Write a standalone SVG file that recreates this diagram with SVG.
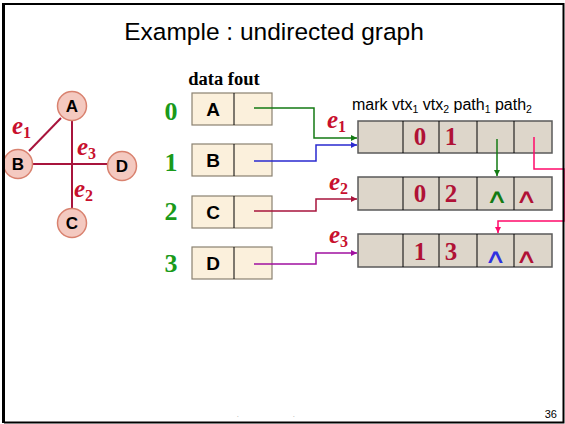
<svg xmlns="http://www.w3.org/2000/svg" width="565" height="424" viewBox="0 0 565 424">
<defs>
<style>
.v{fill:#f4c9c0;stroke:#d9826f;stroke-width:1.5}
.vl{font-family:"Liberation Sans",Arial,sans-serif;font-weight:bold;font-size:17px;text-anchor:middle;fill:#000}
.bl{font-family:"Liberation Sans",Arial,sans-serif;font-weight:bold;font-size:19px;text-anchor:middle;fill:#000}
.ge{stroke:#a8143c;stroke-width:2;fill:none}
.e{font-family:"Liberation Serif","Times New Roman",serif;font-style:italic;font-weight:bold;font-size:25px;fill:#c8102e}
.es{font-size:16px;font-style:normal}
.ib{fill:#fbf0dc;stroke:#8a8170;stroke-width:1.2}
.dv{stroke:#000;stroke-width:1}
.idx{font-family:"Liberation Serif","Times New Roman",serif;font-weight:bold;font-size:26px;fill:#1a9a1a;text-anchor:middle}
.rb{fill:#ddd6ca;stroke:#5a5a5a;stroke-width:1.5}
.num{font-family:"Liberation Serif","Times New Roman",serif;font-weight:bold;font-size:25px;fill:#b01236;text-anchor:middle}
.car{font-family:"DejaVu Sans",sans-serif;font-size:18px;text-anchor:middle}
.c{fill:none;stroke-width:1.5}
</style>
<marker id="ag" viewBox="0 0 8 8" refX="8" refY="4" markerWidth="6" markerHeight="6" orient="auto" markerUnits="userSpaceOnUse"><path d="M0,0L8,4L0,8z" fill="#137a13"/></marker>
<marker id="ab" viewBox="0 0 8 8" refX="8" refY="4" markerWidth="6" markerHeight="6" orient="auto" markerUnits="userSpaceOnUse"><path d="M0,0L8,4L0,8z" fill="#2a2ad0"/></marker>
<marker id="ar" viewBox="0 0 8 8" refX="8" refY="4" markerWidth="6" markerHeight="6" orient="auto" markerUnits="userSpaceOnUse"><path d="M0,0L8,4L0,8z" fill="#a8143c"/></marker>
<marker id="am" viewBox="0 0 8 8" refX="8" refY="4" markerWidth="6" markerHeight="6" orient="auto" markerUnits="userSpaceOnUse"><path d="M0,0L8,4L0,8z" fill="#a010a0"/></marker>
<marker id="ap" viewBox="0 0 8 8" refX="8" refY="4" markerWidth="6" markerHeight="6" orient="auto" markerUnits="userSpaceOnUse"><path d="M0,0L8,4L0,8z" fill="#ff0a6a"/></marker>
</defs>
<rect width="565" height="424" fill="#fff"/>

<text x="274" y="40" font-family="Liberation Sans,Arial,sans-serif" font-size="24.5" text-anchor="middle" fill="#000">Example : undirected graph</text>

<!-- graph drawing -->
<g id="graph-edges">
<line class="ge" x1="61" y1="118" x2="29" y2="151"/>
<line class="ge" x1="72" y1="121" x2="72" y2="209"/>
<line class="ge" x1="33" y1="164" x2="108" y2="164"/>
</g>
<g id="vA"><circle class="v" cx="72" cy="106" r="14.5"/><text class="vl" x="72" y="112">A</text></g>
<g id="vB"><circle class="v" cx="18" cy="164" r="14.5"/><text class="vl" x="18" y="170">B</text></g>
<g id="vD"><circle class="v" cx="122" cy="166" r="14.5"/><text class="vl" x="122" y="172">D</text></g>
<g id="vC"><circle class="v" cx="72" cy="223" r="14.5"/><text class="vl" x="72" y="229">C</text></g>
<text class="e" x="12" y="134">e<tspan class="es" dy="4">1</tspan></text>
<text class="e" x="77" y="155">e<tspan class="es" dy="4">3</tspan></text>
<text class="e" x="74" y="197">e<tspan class="es" dy="4">2</tspan></text>

<!-- vertex table -->
<text x="224" y="85" font-family="Liberation Serif,Times New Roman,serif" font-weight="bold" font-size="18.5" text-anchor="middle" fill="#000">data fout</text>
<g id="row0"><rect class="ib" x="192" y="93" width="80" height="32"/><line class="dv" x1="234" y1="93" x2="234" y2="125"/><text class="bl" x="213" y="116">A</text><text class="idx" x="171" y="120">0</text></g>
<g id="row1"><rect class="ib" x="192" y="144" width="80" height="32"/><line class="dv" x1="234" y1="144" x2="234" y2="176"/><text class="bl" x="213" y="167">B</text><text class="idx" x="171" y="171">1</text></g>
<g id="row2"><rect class="ib" x="192" y="196" width="80" height="32"/><line class="dv" x1="234" y1="196" x2="234" y2="228"/><text class="bl" x="213" y="219">C</text><text class="idx" x="171" y="220">2</text></g>
<g id="row3"><rect class="ib" x="192" y="247" width="80" height="32"/><line class="dv" x1="234" y1="247" x2="234" y2="279"/><text class="bl" x="213" y="270">D</text><text class="idx" x="171" y="272">3</text></g>

<!-- edge records -->
<text x="352" y="110" font-family="Liberation Sans,Arial,sans-serif" font-size="16" fill="#000">mark vtx<tspan font-size="10.5" dy="3">1</tspan><tspan dy="-3"> vtx</tspan><tspan font-size="10.5" dy="3">2</tspan><tspan dy="-3"> path</tspan><tspan font-size="10.5" dy="3">1</tspan><tspan dy="-3"> path</tspan><tspan font-size="10.5" dy="3">2</tspan></text>

<g id="e1rec">
<rect class="rb" x="358" y="121" width="194" height="32"/>
<line class="dv" x1="403" y1="121" x2="403" y2="153"/><line class="dv" x1="439" y1="121" x2="439" y2="153"/><line class="dv" x1="477" y1="121" x2="477" y2="153"/><line class="dv" x1="514" y1="121" x2="514" y2="153"/>
<text class="num" x="420" y="145">0</text><text class="num" x="451" y="145">1</text>
<text class="e" x="327" y="128">e<tspan class="es" dy="4">1</tspan></text>
</g>
<g id="e2rec">
<rect class="rb" x="358" y="177" width="194" height="33"/>
<line class="dv" x1="403" y1="177" x2="403" y2="210"/><line class="dv" x1="439" y1="177" x2="439" y2="210"/><line class="dv" x1="477" y1="177" x2="477" y2="210"/><line class="dv" x1="514" y1="177" x2="514" y2="210"/>
<text class="num" x="420" y="202">0</text><text class="num" x="451" y="202">2</text>
<text class="car" transform="translate(497,203) scale(1.7,1.1)" fill="#137a13">∧</text><text class="car" transform="translate(526.5,203) scale(1.7,1.1)" fill="#b01236">∧</text>
<text class="e" x="329" y="190">e<tspan class="es" dy="4">2</tspan></text>
</g>
<g id="e3rec">
<rect class="rb" x="358" y="234" width="194" height="33"/>
<line class="dv" x1="403" y1="234" x2="403" y2="267"/><line class="dv" x1="439" y1="234" x2="439" y2="267"/><line class="dv" x1="477" y1="234" x2="477" y2="267"/><line class="dv" x1="514" y1="234" x2="514" y2="267"/>
<text class="num" x="420" y="260">1</text><text class="num" x="451" y="260">3</text>
<text class="car" transform="translate(495.5,263) scale(1.7,1.1)" fill="#3030e0">∧</text><text class="car" transform="translate(526.5,263) scale(1.7,1.1)" fill="#b01236">∧</text>
<text class="e" x="329" y="243">e<tspan class="es" dy="4">3</tspan></text>
</g>

<g id="connectors">
<path class="c" stroke="#137a13" d="M254,108H314V138H357" marker-end="url(#ag)"/>
<path class="c" stroke="#2a2ad0" d="M254,161H316V145H357" marker-end="url(#ab)"/>
<path class="c" stroke="#a8143c" d="M254,211H316V199H357" marker-end="url(#ar)"/>
<path class="c" stroke="#a010a0" d="M254,264H316V253H357" marker-end="url(#am)"/>
<path class="c" stroke="#137a13" d="M497,139V176" marker-end="url(#ag)"/>
<path class="c" stroke="#ff0a6a" d="M534,137V169H564V221H498V233" marker-end="url(#ap)"/>
</g>

<!-- footer -->
<text x="557" y="418" font-family="Liberation Sans,Arial,sans-serif" font-size="11" text-anchor="end" fill="#000">36</text>
<text x="237" y="417" font-family="Liberation Sans,Arial,sans-serif" font-size="6" fill="#666">.</text>
<text x="293" y="417" font-family="Liberation Sans,Arial,sans-serif" font-size="6" fill="#666">.</text>

<!-- frame -->
<path d="M4,423V4H563.5V422.5H4" fill="none" stroke="#000" stroke-width="2"/>
<line x1="3.5" y1="3" x2="3.5" y2="423" stroke="#000" stroke-width="3"/>
</svg>
